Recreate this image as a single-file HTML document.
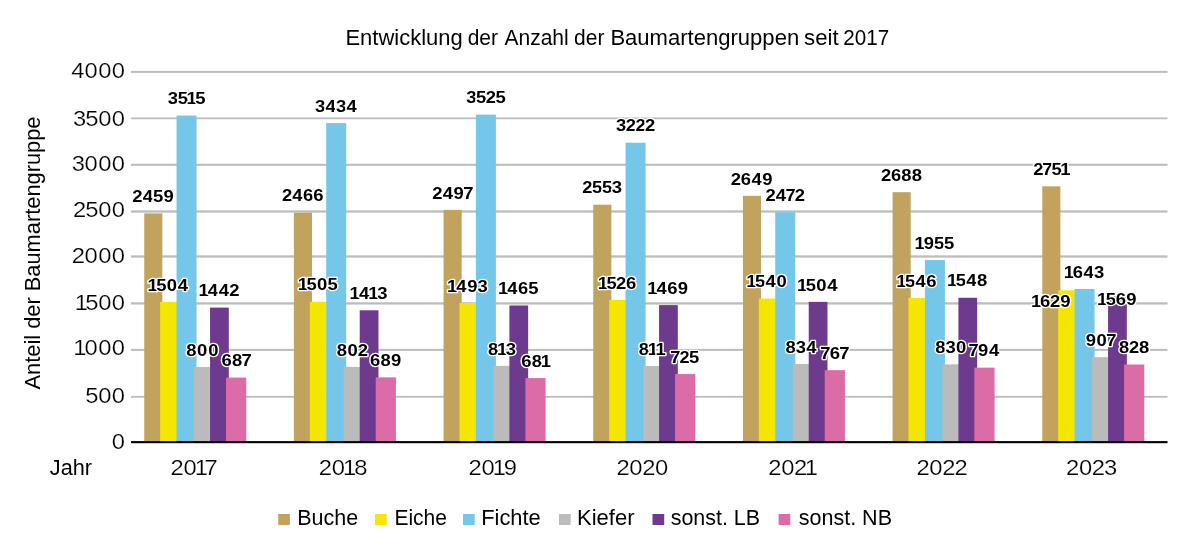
<!DOCTYPE html>
<html lang="de">
<head>
<meta charset="utf-8">
<title>Entwicklung der Anzahl der Baumartengruppen seit 2017</title>
<style>
html,body{margin:0;padding:0;background:#fff;}
body{width:1200px;height:554px;overflow:hidden;}
svg{display:block;}
text{font-family:"Liberation Sans", sans-serif;fill:#000;}
.tick,.cat{stroke:#fff;stroke-width:0.2px;}
.t{font-size:22px;}
.tick{font-size:22.2px;text-anchor:middle;}
.cat{font-size:22.2px;text-anchor:middle;}
.leg{font-size:22px;}
.dl{font-size:16.8px;font-weight:bold;text-anchor:middle;fill:#000;stroke:#fff;stroke-width:2.6px;stroke-linejoin:round;paint-order:stroke fill;}
</style>
</head>
<body>
<svg width="1200" height="554" viewBox="0 0 1200 554">
<rect width="1200" height="554" fill="#fff"/>
<text class="t" y="44.7" xml:space="preserve"><tspan x="345.40" textLength="117.31" lengthAdjust="spacingAndGlyphs">Entwicklung</tspan> <tspan x="467.65" textLength="30.31" lengthAdjust="spacingAndGlyphs">der</tspan> <tspan x="504.45" textLength="64.28" lengthAdjust="spacingAndGlyphs">Anzahl</tspan> <tspan x="574.10" textLength="30.31" lengthAdjust="spacingAndGlyphs">der</tspan> <tspan x="610.40" textLength="188.77" lengthAdjust="spacingAndGlyphs">Baumartengruppen</tspan> <tspan x="804.10" textLength="34.53" lengthAdjust="spacingAndGlyphs">seit</tspan> <tspan x="843.30" textLength="45.84" lengthAdjust="spacingAndGlyphs">2017</tspan></text>
<g fill="#BDBDBD">
<rect x="131" y="395.90" width="1036.5" height="1.8"/>
<rect x="131" y="348.90" width="1036.5" height="2"/>
<rect x="131" y="302.25" width="1036.5" height="2.3"/>
<rect x="131" y="255.35" width="1036.5" height="2.3"/>
<rect x="131" y="210.35" width="1036.5" height="2.3"/>
<rect x="131" y="163.75" width="1036.5" height="2.1"/>
<rect x="131" y="117.45" width="1036.5" height="1.8"/>
<rect x="131" y="70.90" width="1036.5" height="2"/>
</g>
<g class="tick">
<text transform="translate(125.20 448.50) scale(1.07 1)" x="-6.36" y="0">0</text>
<text transform="translate(125.20 403.30) scale(1.07 1)" x="-31.12 -19.07 -6.36" y="0">500</text>
<text transform="translate(125.20 355.40) scale(1.07 1)" x="-42.34 -31.78 -19.07 -6.36" y="0">1000</text>
<text transform="translate(125.20 310.00) scale(1.07 1)" x="-41.03 -31.12 -19.07 -6.36" y="0">1500</text>
<text transform="translate(125.20 262.90) scale(1.07 1)" x="-43.83 -31.78 -19.07 -6.36" y="0">2000</text>
<text transform="translate(125.20 217.00) scale(1.07 1)" x="-42.52 -31.12 -19.07 -6.36" y="0">2500</text>
<text transform="translate(125.20 171.40) scale(1.07 1)" x="-43.83 -31.78 -19.07 -6.36" y="0">3000</text>
<text transform="translate(125.20 125.70) scale(1.07 1)" x="-42.52 -31.12 -19.07 -6.36" y="0">3500</text>
<text transform="translate(125.20 78.30) scale(1.07 1)" x="-44.35 -31.78 -19.07 -6.36" y="0">4000</text>
</g>
<text class="t" transform="translate(40 389.5) rotate(-90)" textLength="273" lengthAdjust="spacingAndGlyphs">Anteil der Baumartengruppe</text>
<g>
<rect x="144.25" y="213.40" width="18.1" height="228.30" fill="#C1A35D"/>
<rect x="160.15" y="301.87" width="17" height="139.83" fill="#F5E600"/>
<rect x="176.55" y="115.57" width="20" height="326.13" fill="#74C7E8"/>
<rect x="194.05" y="367.09" width="17" height="74.61" fill="#BBBBBB"/>
<rect x="210.05" y="307.61" width="18.75" height="134.09" fill="#6E3A8E"/>
<rect x="226.05" y="377.56" width="20.2" height="64.14" fill="#DB6CA8"/>
</g>
<g>
<rect x="293.92" y="212.75" width="18.1" height="228.95" fill="#C1A35D"/>
<rect x="309.82" y="301.78" width="17" height="139.92" fill="#F5E600"/>
<rect x="326.22" y="123.07" width="20" height="318.63" fill="#74C7E8"/>
<rect x="343.72" y="366.90" width="17" height="74.80" fill="#BBBBBB"/>
<rect x="359.72" y="310.30" width="18.75" height="131.40" fill="#6E3A8E"/>
<rect x="375.72" y="377.37" width="20.2" height="64.33" fill="#DB6CA8"/>
</g>
<g>
<rect x="443.59" y="209.88" width="18.1" height="231.82" fill="#C1A35D"/>
<rect x="459.49" y="302.89" width="17" height="138.81" fill="#F5E600"/>
<rect x="475.89" y="114.64" width="20" height="327.06" fill="#74C7E8"/>
<rect x="493.39" y="365.88" width="17" height="75.82" fill="#BBBBBB"/>
<rect x="509.39" y="305.48" width="18.75" height="136.22" fill="#6E3A8E"/>
<rect x="525.39" y="378.11" width="20.2" height="63.59" fill="#DB6CA8"/>
</g>
<g>
<rect x="593.26" y="204.69" width="18.1" height="237.01" fill="#C1A35D"/>
<rect x="609.16" y="299.83" width="17" height="141.87" fill="#F5E600"/>
<rect x="625.56" y="142.71" width="20" height="298.99" fill="#74C7E8"/>
<rect x="643.06" y="366.07" width="17" height="75.63" fill="#BBBBBB"/>
<rect x="659.06" y="305.11" width="18.75" height="136.59" fill="#6E3A8E"/>
<rect x="675.06" y="374.04" width="20.2" height="67.66" fill="#DB6CA8"/>
</g>
<g>
<rect x="742.93" y="195.80" width="18.1" height="245.90" fill="#C1A35D"/>
<rect x="758.83" y="298.53" width="17" height="143.17" fill="#F5E600"/>
<rect x="775.23" y="212.19" width="20" height="229.51" fill="#74C7E8"/>
<rect x="792.73" y="363.94" width="17" height="77.76" fill="#BBBBBB"/>
<rect x="808.73" y="301.87" width="18.75" height="139.83" fill="#6E3A8E"/>
<rect x="824.73" y="370.15" width="20.2" height="71.55" fill="#DB6CA8"/>
</g>
<g>
<rect x="892.60" y="192.18" width="18.1" height="249.52" fill="#C1A35D"/>
<rect x="908.50" y="297.98" width="17" height="143.72" fill="#F5E600"/>
<rect x="924.90" y="260.09" width="20" height="181.61" fill="#74C7E8"/>
<rect x="942.40" y="364.31" width="17" height="77.39" fill="#BBBBBB"/>
<rect x="958.40" y="297.79" width="18.75" height="143.91" fill="#6E3A8E"/>
<rect x="974.40" y="367.64" width="20.2" height="74.06" fill="#DB6CA8"/>
</g>
<g>
<rect x="1042.27" y="186.35" width="18.1" height="255.35" fill="#C1A35D"/>
<rect x="1058.17" y="290.29" width="17" height="151.41" fill="#F5E600"/>
<rect x="1074.57" y="288.99" width="20" height="152.71" fill="#74C7E8"/>
<rect x="1092.07" y="357.18" width="17" height="84.52" fill="#BBBBBB"/>
<rect x="1108.07" y="295.85" width="18.75" height="145.85" fill="#6E3A8E"/>
<rect x="1124.07" y="364.49" width="20.2" height="77.21" fill="#DB6CA8"/>
</g>
<rect x="131" y="441.1" width="1036.5" height="2.1" fill="#000"/>
<g class="dl">
<text transform="translate(153.30 202.10) scale(1.1 1)" x="-14.40 -5.02 4.48 13.85" y="0">2459</text>
<text transform="translate(168.65 290.57) scale(1.1 1)" x="-14.53 -6.57 2.93 12.99" y="0">1504</text>
<text transform="translate(186.55 104.27) scale(1.1 1)" x="-12.44 -3.43 4.53 12.49" y="0">3515</text>
<text transform="translate(202.55 355.79) scale(1.1 1)" x="-10.05 -0.29 9.77" y="0">800</text>
<text transform="translate(219.43 296.31) scale(1.1 1)" x="-14.40 -5.89 4.16 13.54" y="0">1442</text>
<text transform="translate(236.15 366.26) scale(1.1 1)" x="-8.63 0.83 9.46" y="0">687</text>
<text transform="translate(302.97 201.45) scale(1.1 1)" x="-14.47 -5.10 4.65 14.10" y="0">2466</text>
<text transform="translate(318.32 290.48) scale(1.1 1)" x="-13.98 -6.02 3.48 12.99" y="0">1505</text>
<text transform="translate(336.22 111.77) scale(1.1 1)" x="-14.58 -5.03 4.53 14.08" y="0">3434</text>
<text transform="translate(352.22 355.60) scale(1.1 1)" x="-9.37 0.40 9.77" y="0">802</text>
<text transform="translate(369.09 299.00) scale(1.1 1)" x="-13.04 -4.53 3.98 11.99" y="0">1413</text>
<text transform="translate(385.82 366.07) scale(1.1 1)" x="-9.63 -0.17 9.46" y="0">689</text>
<text transform="translate(452.64 198.58) scale(1.1 1)" x="-13.81 -4.44 5.48 14.26" y="0">2497</text>
<text transform="translate(467.99 291.59) scale(1.1 1)" x="-14.45 -5.94 3.98 13.40" y="0">1493</text>
<text transform="translate(485.89 103.34) scale(1.1 1)" x="-13.30 -4.30 4.53 13.35" y="0">3525</text>
<text transform="translate(501.89 354.58) scale(1.1 1)" x="-8.01 0.21 8.22" y="0">813</text>
<text transform="translate(518.76 294.18) scale(1.1 1)" x="-14.23 -5.72 4.03 13.23" y="0">1465</text>
<text transform="translate(535.49 366.81) scale(1.1 1)" x="-8.22 1.24 9.46" y="0">681</text>
<text transform="translate(602.31 193.39) scale(1.1 1)" x="-13.48 -4.66 4.30 13.30" y="0">2553</text>
<text transform="translate(617.66 288.53) scale(1.1 1)" x="-13.55 -5.59 3.24 12.30" y="0">1526</text>
<text transform="translate(635.56 131.41) scale(1.1 1)" x="-13.04 -4.16 4.53 13.22" y="0">3222</text>
<text transform="translate(651.56 354.77) scale(1.1 1)" x="-6.96 1.26 8.22" y="0">811</text>
<text transform="translate(668.43 293.81) scale(1.1 1)" x="-14.64 -6.13 3.62 13.23" y="0">1469</text>
<text transform="translate(685.16 362.74) scale(1.1 1)" x="-8.82 -0.59 8.24" y="0">725</text>
<text transform="translate(751.98 184.50) scale(1.1 1)" x="-14.64 -5.57 4.18 14.10" y="0">2649</text>
<text transform="translate(767.33 287.23) scale(1.1 1)" x="-14.53 -6.57 2.93 12.99" y="0">1540</text>
<text transform="translate(785.23 200.89) scale(1.1 1)" x="-13.26 -3.89 5.03 13.26" y="0">2472</text>
<text transform="translate(801.23 352.64) scale(1.1 1)" x="-9.55 -0.29 9.27" y="0">834</text>
<text transform="translate(818.10 290.57) scale(1.1 1)" x="-14.53 -6.57 2.93 12.99" y="0">1504</text>
<text transform="translate(834.83 358.85) scale(1.1 1)" x="-8.61 0.00 8.61" y="0">767</text>
<text transform="translate(901.65 180.88) scale(1.1 1)" x="-14.20 -5.14 4.33 13.81" y="0">2688</text>
<text transform="translate(917.00 286.68) scale(1.1 1)" x="-14.23 -6.27 3.24 12.99" y="0">1546</text>
<text transform="translate(934.90 248.79) scale(1.1 1)" x="-13.85 -5.47 3.90 12.85" y="0">1955</text>
<text transform="translate(950.90 353.01) scale(1.1 1)" x="-9.55 -0.29 9.27" y="0">830</text>
<text transform="translate(967.77 286.49) scale(1.1 1)" x="-14.25 -6.29 3.22 12.99" y="0">1548</text>
<text transform="translate(984.50 356.34) scale(1.1 1)" x="-9.92 -1.14 8.78" y="0">794</text>
<text transform="translate(1051.32 175.05) scale(1.1 1)" x="-11.85 -3.61 4.75 12.71" y="0">2751</text>
<text transform="translate(1051.50 307.00) scale(1.1 1)" x="-13.96 -5.75 3.31 12.55" y="0">1629</text>
<text transform="translate(1084.57 277.69) scale(1.1 1)" x="-14.28 -6.07 3.68 13.23" y="0">1643</text>
<text transform="translate(1100.57 345.88) scale(1.1 1)" x="-8.92 1.00 9.92" y="0">907</text>
<text transform="translate(1117.50 304.50) scale(1.1 1)" x="-14.09 -6.13 3.07 12.68" y="0">1569</text>
<text transform="translate(1134.17 353.19) scale(1.1 1)" x="-9.09 -0.00 9.09" y="0">828</text>
</g>
<g class="cat">
<text transform="translate(193.70 474.90) scale(1.07 1)" x="-15.47 -3.41 7.15 16.26" y="0">2017</text>
<text transform="translate(343.36 474.90) scale(1.07 1)" x="-16.73 -4.67 5.89 16.26" y="0">2018</text>
<text transform="translate(493.02 474.90) scale(1.07 1)" x="-16.73 -4.67 5.89 16.26" y="0">2019</text>
<text transform="translate(642.68 474.90) scale(1.07 1)" x="-18.41 -6.36 5.70 17.76" y="0">2020</text>
<text transform="translate(792.34 474.90) scale(1.07 1)" x="-16.26 -4.21 7.85 17.76" y="0">2021</text>
<text transform="translate(942.00 474.90) scale(1.07 1)" x="-17.76 -5.70 6.36 17.76" y="0">2022</text>
<text transform="translate(1091.66 474.90) scale(1.07 1)" x="-17.76 -5.70 6.36 17.76" y="0">2023</text>
</g>
<text class="t" x="49.8" y="474.9" textLength="42.2" lengthAdjust="spacingAndGlyphs">Jahr</text>
<g class="leg">
<rect x="278.2" y="514" width="11.7" height="11" fill="#C1A35D"/>
<text x="297.2" y="525.3" textLength="61" lengthAdjust="spacingAndGlyphs">Buche</text>
<rect x="375" y="514" width="11.7" height="11" fill="#F5E600"/>
<text x="394.4" y="525.3" textLength="52.5" lengthAdjust="spacingAndGlyphs">Eiche</text>
<rect x="463" y="514" width="11.7" height="11" fill="#74C7E8"/>
<text x="481.2" y="525.3" textLength="59.5" lengthAdjust="spacingAndGlyphs">Fichte</text>
<rect x="559" y="514" width="11.7" height="11" fill="#BBBBBB"/>
<text x="577" y="525.3" textLength="57.5" lengthAdjust="spacingAndGlyphs">Kiefer</text>
<rect x="652.5" y="514" width="11.7" height="11" fill="#6E3A8E"/>
<text x="670.7" y="525.3" textLength="89.3" lengthAdjust="spacingAndGlyphs">sonst. LB</text>
<rect x="778.6" y="514" width="11.7" height="11" fill="#DB6CA8"/>
<text x="798.7" y="525.3" textLength="93.3" lengthAdjust="spacingAndGlyphs">sonst. NB</text>
</g>
</svg>
</body>
</html>
